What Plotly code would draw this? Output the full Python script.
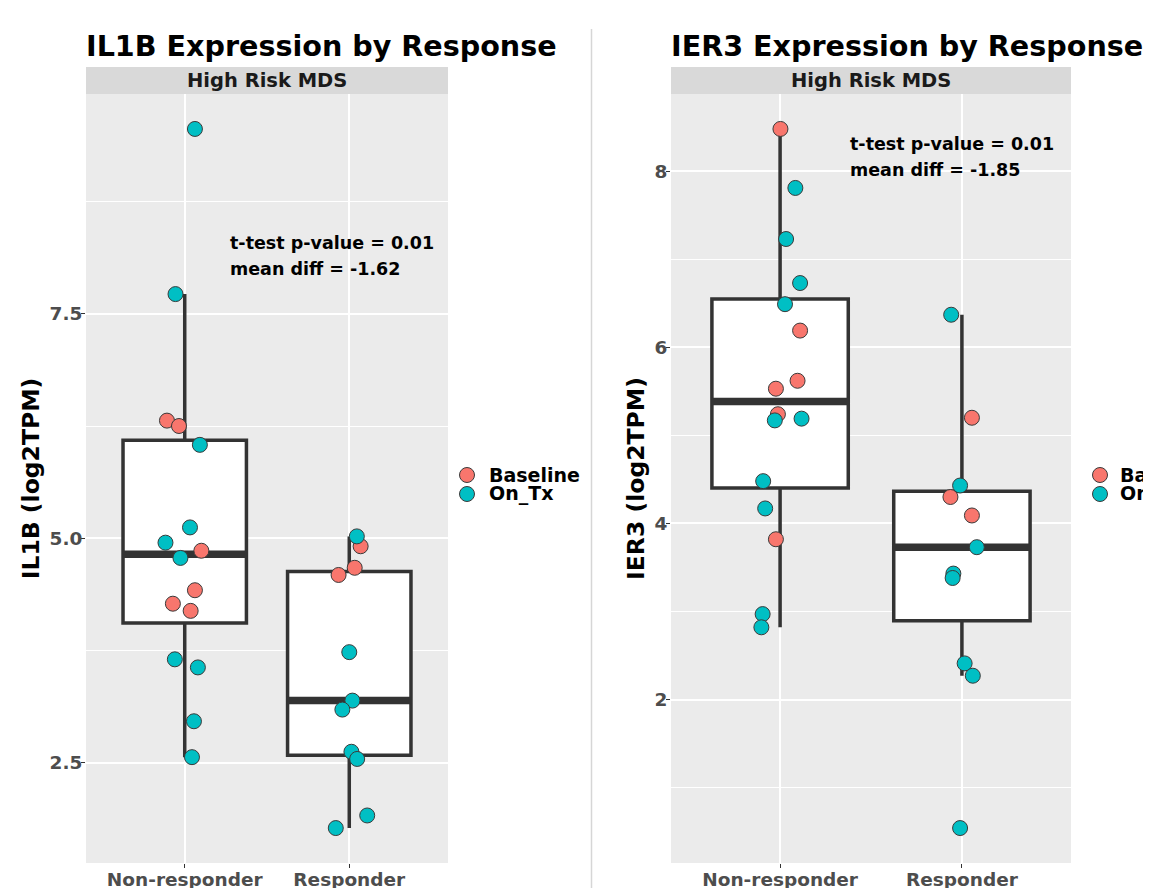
import numpy as np
import plotly.graph_objects as go

# ---------------- data ----------------
groups = ["Non-responder", "Responder"]
status_names = ["Baseline", "On_Tx"]
status_colors = ["#F8766D", "#00BFC4"]

# IL1B panel
il1b_nonresp = [9.56, 7.72, 6.31, 6.25, 6.04, 5.12, 4.95, 4.86, 4.78, 4.42, 4.27, 4.19, 3.65, 3.56, 2.96, 2.56]
il1b_nonresp_status = ["On_Tx", "On_Tx", "Baseline", "Baseline", "On_Tx", "On_Tx", "On_Tx", "Baseline",
                       "On_Tx", "Baseline", "Baseline", "Baseline", "On_Tx", "On_Tx", "On_Tx", "On_Tx"]
il1b_nonresp_jitter = [0.062, -0.056, -0.108, -0.035, 0.092, 0.032, -0.117, 0.101,
                       -0.026, 0.062, -0.072, 0.036, -0.060, 0.080, 0.056, 0.044]
il1b_resp = [5.02, 4.91, 4.67, 4.59, 3.73, 3.19, 3.09, 2.62, 2.54, 1.91, 1.77]
il1b_resp_status = ["On_Tx", "Baseline", "Baseline", "Baseline", "On_Tx", "On_Tx", "On_Tx",
                    "On_Tx", "On_Tx", "On_Tx", "On_Tx"]
il1b_resp_jitter = [0.046, 0.069, 0.033, -0.065, 0.0, 0.019, -0.042, 0.013, 0.048, 0.109, -0.082]

# IER3 panel
ier3_nonresp = [8.48, 7.81, 7.23, 6.73, 6.49, 6.19, 5.62, 5.53, 5.24, 5.17, 5.19, 4.48, 4.17, 3.82, 2.97, 2.82]
ier3_nonresp_status = ["Baseline", "On_Tx", "On_Tx", "On_Tx", "On_Tx", "Baseline", "Baseline", "Baseline",
                       "Baseline", "On_Tx", "On_Tx", "On_Tx", "On_Tx", "Baseline", "On_Tx", "On_Tx"]
ier3_nonresp_jitter = [0.002, 0.084, 0.033, 0.110, 0.027, 0.110, 0.096, -0.023,
                       -0.012, -0.029, 0.118, -0.093, -0.082, -0.023, -0.096, -0.103]
ier3_resp = [6.37, 5.20, 4.43, 4.30, 4.09, 3.73, 3.43, 3.38, 2.41, 2.27, 0.54]
ier3_resp_status = ["On_Tx", "Baseline", "On_Tx", "Baseline", "Baseline", "On_Tx", "On_Tx",
                    "On_Tx", "On_Tx", "On_Tx", "On_Tx"]
ier3_resp_jitter = [-0.059, 0.055, -0.010, -0.063, 0.055, 0.082, -0.047, -0.051, 0.015, 0.060, -0.010]

titles = ["IL1B Expression by Response", "IER3 Expression by Response"]
ytitles = ["IL1B (log2TPM)", "IER3 (log2TPM)"]
strip_label = "High Risk MDS"
stat_lines = [["t-test p-value = 0.01", "mean diff = -1.62"],
              ["t-test p-value = 0.01", "mean diff = -1.85"]]
y_dticks = [2.5, 2.0]
y_formats = [".1f", "d"]

panels = [
    dict(vals=[il1b_nonresp, il1b_resp], stat=[il1b_nonresp_status, il1b_resp_status],
         jit=[il1b_nonresp_jitter, il1b_resp_jitter]),
    dict(vals=[ier3_nonresp, ier3_resp], stat=[ier3_nonresp_status, ier3_resp_status],
         jit=[ier3_nonresp_jitter, ier3_resp_jitter]),
]

# ---------------- layout geometry ----------------
W, H = 1151, 888
OFF = 8  # page body margin of the browser


def PX(x):
    return (x - OFF) / W


def PY(y):
    return 1 - (y - OFF) / H


x_domains = [[PX(86), PX(448)], [PX(671), PX(1071)]]
y_domain = [PY(863), PY(94)]
strip_h = 27 / (863 - 94)
BOX_W = 0.75
FONT = "DejaVu Sans"
BOXLINE = "#333333"
legend_pos = [(467, 489), (1100, 1120)]   # marker centre x, text start x
legend_rows = [475, 494]


def box_stats(v):
    v = np.asarray(v, dtype=float)
    q1, med, q3 = np.percentile(v, [25, 50, 75])
    iqr = q3 - q1
    lo = v[v >= q1 - 1.5 * iqr].min()
    hi = v[v <= q3 + 1.5 * iqr].max()
    return q1, med, q3, lo, hi


fig = go.Figure()
layout_extra = {}
annotations = []
shapes = []

for p, panel in enumerate(panels):
    xa = "x" if p == 0 else "x2"
    ya = "y" if p == 0 else "y2"
    stats = [box_stats(v) for v in panel["vals"]]
    pos = list(range(len(groups)))

    fig.add_trace(go.Box(
        x=pos,
        q1=[s[0] for s in stats], median=[s[1] for s in stats], q3=[s[2] for s in stats],
        lowerfence=[s[3] for s in stats], upperfence=[s[4] for s in stats],
        width=BOX_W, whiskerwidth=0, boxpoints=False,
        fillcolor="white", line=dict(color=BOXLINE, width=3.5),
        showlegend=False, hoverinfo="skip", xaxis=xa, yaxis=ya,
    ))
    # thick median bars (ggplot fatten = 2)
    mx, my = [], []
    for g, s in zip(pos, stats):
        mx += [g - BOX_W / 2, g + BOX_W / 2, None]
        my += [s[1], s[1], None]
    fig.add_trace(go.Scatter(x=mx, y=my, mode="lines", line=dict(color=BOXLINE, width=7.5),
                             showlegend=False, hoverinfo="skip", xaxis=xa, yaxis=ya))

    # jittered points
    for sname, scol in zip(status_names, status_colors):
        px, py = [], []
        for g, vals, sts, jit in zip(pos, panel["vals"], panel["stat"], panel["jit"]):
            for v, st, j in zip(vals, sts, jit):
                if st == sname:
                    px.append(g + j)
                    py.append(v)
        fig.add_trace(go.Scatter(
            x=px, y=py, mode="markers", name=sname, showlegend=False,
            marker=dict(size=15, color=scol, line=dict(color="#3a3a3a", width=1)),
            xaxis=xa, yaxis=ya,
        ))

    all_vals = np.concatenate([np.asarray(v) for v in panel["vals"]])
    lo, hi = all_vals.min(), all_vals.max()
    pad = 0.05 * (hi - lo)
    suffix = "" if p == 0 else "2"

    layout_extra["xaxis" + suffix] = dict(
        domain=x_domains[p], range=[-0.6, len(groups) - 0.4], anchor=ya,
        tickvals=pos, ticktext=groups, showgrid=True, gridcolor="white", gridwidth=2,
        zeroline=False, showline=False, ticks="outside", ticklen=4, tickwidth=1, tickcolor=BOXLINE,
        ticklabelstandoff=-4,
        tickfont=dict(family=FONT, size=18.5, color="#4D4D4D", weight="bold"),
    )
    layout_extra["yaxis" + suffix] = dict(
        domain=y_domain, range=[lo - pad, hi + pad], anchor=xa,
        tick0=0, dtick=y_dticks[p], tickformat=y_formats[p],
        showgrid=True, gridcolor="white", gridwidth=2, zeroline=False, showline=False,
        ticks="outside", ticklen=4, tickwidth=1, tickcolor=BOXLINE, ticklabelstandoff=-5,
        tickfont=dict(family=FONT, size=18.5, color="#4D4D4D", weight="bold"),
        minor=dict(dtick=y_dticks[p] / 2, tick0=0, showgrid=True, gridcolor="white", gridwidth=1, ticklen=0),
        title=dict(text=ytitles[p], font=dict(family=FONT, size=23.5, color="black", weight="bold"),
                   standoff=3),
    )

    # strip
    shapes.append(dict(type="rect", xref=xa + " domain", yref=ya + " domain",
                       x0=0, x1=1, y0=1, y1=1 + strip_h, fillcolor="#D9D9D9", line=dict(width=0),
                       layer="below"))
    annotations.append(dict(text=strip_label, xref=xa + " domain", yref=ya + " domain",
                            x=0.5, y=1 + strip_h / 2, xanchor="center", yanchor="middle", showarrow=False,
                            font=dict(family=FONT, size=19.5, color="#1A1A1A", weight="bold")))
    # title
    annotations.append(dict(text=titles[p], xref="paper", yref="paper",
                            x=x_domains[p][0] - 2 / W, y=PY(46), xanchor="left", yanchor="middle",
                            showarrow=False,
                            font=dict(family=FONT, size=28.6, color="black", weight="bold")))

    # legend (manual, to match ggplot's compact key spacing)
    mxc, tx = legend_pos[p]
    for sname, scol, ry in zip(status_names, status_colors, legend_rows):
        shapes.append(dict(type="circle", xref="paper", yref="paper",
                           xsizemode="pixel", ysizemode="pixel",
                           xanchor=PX(mxc), yanchor=PY(ry), x0=-7.5, x1=7.5, y0=-7.5, y1=7.5,
                           fillcolor=scol, line=dict(color="#3a3a3a", width=1)))
        annotations.append(dict(text=sname, xref="paper", yref="paper", x=PX(tx - 2), y=PY(ry),
                                xanchor="left", yanchor="middle", showarrow=False,
                                font=dict(family=FONT, size=19, color="black", weight="bold")))

# stat text annotations (placed in data coordinates)
stat_x = [0.262, 0.372]
stat_y = [[8.29, 8.0], [8.16 + 0.145, 8.16 - 0.145]]
for p in range(2):
    xa = "x" if p == 0 else "x2"
    ya = "y" if p == 0 else "y2"
    for line, yy in zip(stat_lines[p], stat_y[p]):
        annotations.append(dict(text=line, xref=xa, yref=ya, x=stat_x[p], y=yy,
                                xanchor="left", yanchor="middle", showarrow=False,
                                font=dict(family=FONT, size=17.5, color="black", weight="bold")))

# separator between the two panels
shapes.append(dict(type="line", xref="paper", yref="paper", x0=PX(591.5), x1=PX(591.5),
                   y0=0, y1=PY(29), line=dict(color="#D6D6D6", width=1.5)))

fig.update_layout(
    width=W, height=H,
    margin=dict(l=0, r=0, t=0, b=0, autoexpand=False),
    paper_bgcolor="white", plot_bgcolor="#EBEBEB",
    showlegend=False,
    annotations=annotations, shapes=shapes,
    **layout_extra,
)

fig.write_html("out.html")
